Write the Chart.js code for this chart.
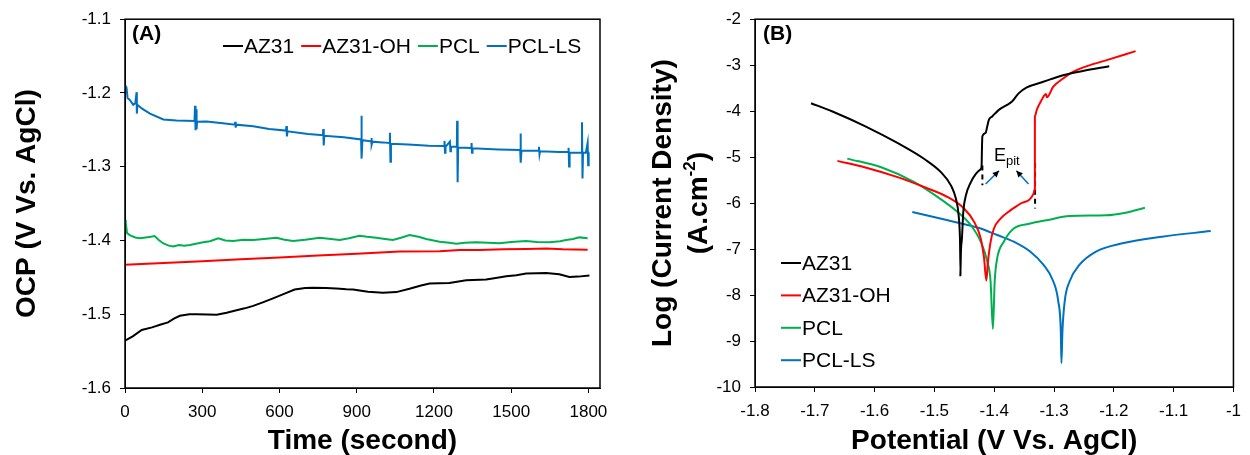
<!DOCTYPE html>
<html>
<head>
<meta charset="utf-8">
<script src="https://cdn.jsdelivr.net/npm/chart.js@4.4.1/dist/chart.umd.min.js"></script>
<style>
  html, body { margin: 0; padding: 0; background: #fff; }
  .panel { position: absolute; top: 0; width: 625px; height: 455px; }
  #panelA { left: 0; }
  #panelB { left: 625px; }
</style>
</head>
<body>
<div class="panel" id="panelA"><canvas id="ocpChart" width="625" height="455"></canvas></div>
<div class="panel" id="panelB"><canvas id="tafelChart" width="625" height="455"></canvas></div>
<script>
const FONT = "'Liberation Sans', Arial, sans-serif";
const seriesNames = ['AZ31', 'AZ31-OH', 'PCL', 'PCL-LS'];
const seriesColors = ['#000000', '#ff0000', '#00b050', '#0070c0'];

// (A) open circuit potential vs time
const timeTicks = [0, 300, 600, 900, 1200, 1500, 1800];

const az31Time = [0, 30, 65, 105, 136, 167, 190, 213, 250, 278, 320, 356, 395, 433, 465, 498, 535, 575, 620, 659, 700, 730, 780, 821, 860, 886, 911, 944, 1002, 1054, 1105, 1150, 1183, 1220, 1260, 1325, 1403, 1440, 1481, 1520, 1558, 1600, 1636, 1687, 1726, 1760, 1804];
const az31Ocp = [-1.5357, -1.530, -1.5213, -1.5178, -1.5142, -1.511, -1.506, -1.5021, -1.500, -1.4999, -1.5005, -1.5008, -1.498, -1.4945, -1.492, -1.4887, -1.484, -1.4784, -1.472, -1.4664, -1.4645, -1.4642, -1.4645, -1.465, -1.466, -1.4664, -1.4677, -1.4696, -1.4709, -1.470, -1.4655, -1.461, -1.4583, -1.458, -1.4575, -1.4539, -1.453, -1.451, -1.4485, -1.447, -1.4449, -1.4443, -1.4441, -1.4458, -1.4494, -1.449, -1.4476];

const ohTime = [0, 150, 300, 450, 600, 750, 900, 1067, 1222, 1300, 1377, 1470, 1558, 1636, 1700, 1797];
const ohOcp = [-1.433, -1.4305, -1.428, -1.4255, -1.423, -1.4205, -1.418, -1.415, -1.4146, -1.413, -1.4128, -1.412, -1.4114, -1.411, -1.412, -1.4125];

const pclTime = [0, 3, 8, 20, 40, 58, 80, 100, 115, 130, 149, 170, 187, 210, 230, 252, 280, 304, 330, 362, 390, 420, 460, 498, 540, 588, 620, 653, 700, 756, 800, 834, 870, 911, 940, 976, 1010, 1041, 1075, 1105, 1140, 1170, 1222, 1260, 1287, 1320, 1364, 1410, 1455, 1500, 1558, 1600, 1649, 1690, 1713, 1740, 1765, 1797];
const pclOcp = [-1.372, -1.376, -1.390, -1.393, -1.396, -1.397, -1.396, -1.395, -1.394, -1.399, -1.404, -1.407, -1.408, -1.406, -1.407, -1.406, -1.404, -1.4025, -1.401, -1.397, -1.400, -1.4007, -1.399, -1.3994, -1.398, -1.3962, -1.399, -1.4007, -1.399, -1.3962, -1.398, -1.3994, -1.397, -1.3936, -1.3949, -1.3962, -1.398, -1.3994, -1.396, -1.3927, -1.395, -1.398, -1.4016, -1.403, -1.4043, -1.403, -1.4025, -1.403, -1.4039, -1.402, -1.4007, -1.402, -1.4025, -1.401, -1.3994, -1.398, -1.3958, -1.3971];

const lsTime = [2, 6, 10, 20, 32, 40, 45, 46, 48, 65, 97, 149, 200, 239, 270, 272, 274, 276, 278, 280, 317, 380, 427, 428, 430, 432, 498, 560, 625, 627, 629, 631, 711, 769, 770, 772, 774, 850, 917, 918, 920, 922, 956, 957, 959, 961, 1000, 1028, 1029, 1031, 1033, 1100, 1180, 1240, 1241, 1243, 1245, 1262, 1264, 1266, 1289, 1290, 1292, 1294, 1345, 1346, 1348, 1350, 1450, 1535, 1536, 1538, 1540, 1607, 1608, 1610, 1612, 1687, 1722, 1723, 1725, 1727, 1774, 1775, 1777, 1779, 1790, 1797, 1799, 1801, 1804];
const lsOcp = [-1.190, -1.193, -1.207, -1.210, -1.216, -1.214, -1.199, -1.228, -1.216, -1.221, -1.228, -1.236, -1.2375, -1.2376, -1.238, -1.2175, -1.2505, -1.222, -1.249, -1.239, -1.2387, -1.241, -1.243, -1.239, -1.247, -1.243, -1.2452, -1.249, -1.251, -1.245, -1.259, -1.252, -1.2555, -1.2573, -1.2488, -1.2712, -1.258, -1.260, -1.263, -1.231, -1.289, -1.264, -1.2655, -1.261, -1.270, -1.266, -1.267, -1.268, -1.254, -1.2934, -1.269, -1.270, -1.2715, -1.272, -1.265, -1.281, -1.273, -1.266, -1.279, -1.273, -1.273, -1.2377, -1.3212, -1.274, -1.2745, -1.268, -1.281, -1.275, -1.2765, -1.2774, -1.255, -1.2944, -1.278, -1.2785, -1.273, -1.283, -1.279, -1.280, -1.280, -1.2743, -1.2997, -1.281, -1.281, -1.2398, -1.3158, -1.281, -1.281, -1.2676, -1.298, -1.281, -1.281];

// (B) polarization curves: potential (V) and log current density
const az31Pot = [-1.7063, -1.6705, -1.6154, -1.5603, -1.5162, -1.4887, -1.4722, -1.464, -1.4595, -1.4573, -1.4562, -1.4567, -1.4555, -1.454, -1.4517, -1.4474, -1.4392, -1.431, -1.4226, -1.4211, -1.4205, -1.4198, -1.4143, -1.412, -1.4088, -1.4033, -1.3923, -1.3785, -1.3702, -1.3592, -1.3455, -1.3179, -1.2849, -1.2518, -1.2077];
const az31Log = [-3.828, -4.007, -4.330, -4.703, -5.047, -5.333, -5.620, -5.907, -6.265, -6.767, -7.555, -7.59, -7.0, -6.77, -6.19, -5.835, -5.548, -5.370, -5.262, -5.19, -4.8, -4.545, -4.473, -4.35, -4.187, -4.115, -3.972, -3.864, -3.792, -3.613, -3.484, -3.362, -3.219, -3.125, -3.025];

const ohPot = [-1.6622, -1.6154, -1.5603, -1.5162, -1.4777, -1.4501, -1.4336, -1.4226, -1.417, -1.4132, -1.4104, -1.406, -1.4005, -1.3895, -1.373, -1.3565, -1.3344, -1.332, -1.332, -1.3289, -1.3207, -1.3135, -1.312, -1.3013, -1.2849, -1.2684, -1.2408, -1.2132, -1.1636];
const ohLog = [-5.082, -5.226, -5.441, -5.656, -5.871, -6.122, -6.409, -6.767, -7.198, -7.684, -7.269, -6.839, -6.553, -6.337, -6.158, -6.015, -5.80, -5.69, -4.115, -3.972, -3.756, -3.627, -3.70, -3.469, -3.29, -3.147, -3.004, -2.896, -2.695];

const pclPot = [-1.6457, -1.5879, -1.5328, -1.4942, -1.4612, -1.4392, -1.4226, -1.4116, -1.4061, -1.4022, -1.3992, -1.395, -1.384, -1.3674, -1.34, -1.3124, -1.2739, -1.2132, -1.1802, -1.148];
const pclLog = [-5.032, -5.226, -5.548, -5.871, -6.194, -6.48, -6.839, -7.269, -7.70, -8.738, -7.70, -7.198, -6.839, -6.553, -6.445, -6.373, -6.28, -6.265, -6.208, -6.10];

const lsPot = [-1.537, -1.4777, -1.4226, -1.395, -1.3674, -1.34, -1.3179, -1.3013, -1.293, -1.2887, -1.2876, -1.2859, -1.2821, -1.2739, -1.2573, -1.2298, -1.1857, -1.1195, -1.038];
const lsLog = [-6.194, -6.373, -6.553, -6.695, -6.839, -7.054, -7.34, -7.70, -8.13, -8.774, -9.477, -8.774, -8.13, -7.70, -7.34, -7.054, -6.875, -6.731, -6.609];

// pitting potential markers (dashed) and arrow ends
const epitPot = [-1.4198, -1.3317];
const epitLogTop = [-5.18, -5.12];
const epitLogBottom = [-5.61, -6.12];
const epitArrowFrom = [[-1.4143, -5.585], [-1.3427, -5.585]];
const epitArrowTo = [[-1.392, -5.297], [-1.363, -5.297]];
const epitLabelAt = [-1.4005, -5.075];

function pts(xs, ys) {
  return xs.map((x, i) => ({ x: x, y: ys[i] }));
}

function lineSet(label, data, color, smooth) {
  const ds = {
    label: label,
    data: data,
    borderColor: color,
    backgroundColor: color,
    borderWidth: 2,
    pointRadius: 0,
    showLine: true,
    tension: 0,
    fill: false
  };
  if (smooth) ds.cubicInterpolationMode = 'monotone';
  return ds;
}

function axis(min, max, step, fmt) {
  return {
    type: 'linear',
    min: min,
    max: max,
    ticks: {
      stepSize: step,
      includeBounds: false,
      color: '#000',
      padding: 9,
      font: { family: FONT, size: 17 },
      callback: fmt
    },
    grid: { drawOnChartArea: false, tickLength: 5, color: '#000', tickColor: '#000' },
    border: { display: true, color: '#000', width: 1 }
  };
}

const fmt1 = v => String(Number(v.toFixed(1)));
const fmt0 = v => String(Math.round(v));

function drawLegendRow(ctx, x, y, gap) {
  ctx.font = '21px ' + FONT;
  ctx.textBaseline = 'middle';
  ctx.textAlign = 'left';
  seriesNames.forEach((name, i) => {
    ctx.strokeStyle = seriesColors[i];
    ctx.lineWidth = 2;
    ctx.beginPath();
    ctx.moveTo(x, y);
    ctx.lineTo(x + 20, y);
    ctx.stroke();
    ctx.fillStyle = '#000';
    ctx.fillText(name, x + 21, y + 1);
    x += 21 + ctx.measureText(name).width + gap;
  });
}

function drawLegendColumn(ctx, x, y, step) {
  ctx.font = '21px ' + FONT;
  ctx.textBaseline = 'middle';
  ctx.textAlign = 'left';
  seriesNames.forEach((name, i) => {
    const yy = y + i * step;
    ctx.strokeStyle = seriesColors[i];
    ctx.lineWidth = 2;
    ctx.beginPath();
    ctx.moveTo(x, yy);
    ctx.lineTo(x + 20, yy);
    ctx.stroke();
    ctx.fillStyle = '#000';
    ctx.fillText(name, x + 21, yy + 1);
  });
}

function drawFrame(chart) {
  const { ctx, chartArea: a } = chart;
  ctx.save();
  ctx.strokeStyle = '#000';
  ctx.lineWidth = 1.5;
  ctx.strokeRect(a.left, a.top, a.right - a.left, a.bottom - a.top);
  ctx.restore();
}

function arrow(ctx, x0, y0, x1, y1) {
  const ang = Math.atan2(y1 - y0, x1 - x0);
  ctx.beginPath();
  ctx.moveTo(x0, y0);
  ctx.lineTo(x1, y1);
  ctx.stroke();
  ctx.beginPath();
  ctx.moveTo(x1, y1);
  ctx.lineTo(x1 - 7 * Math.cos(ang - 0.45), y1 - 7 * Math.sin(ang - 0.45));
  ctx.lineTo(x1 - 7 * Math.cos(ang + 0.45), y1 - 7 * Math.sin(ang + 0.45));
  ctx.closePath();
  ctx.fill();
}

Chart.defaults.animation = false;
Chart.defaults.font.family = FONT;

// Panel A
new Chart(document.getElementById('ocpChart'), {
  type: 'scatter',
  data: {
    datasets: [
      lineSet('AZ31', pts(az31Time, az31Ocp), seriesColors[0]),
      lineSet('AZ31-OH', pts(ohTime, ohOcp), seriesColors[1]),
      lineSet('PCL', pts(pclTime, pclOcp), seriesColors[2]),
      lineSet('PCL-LS', pts(lsTime, lsOcp), seriesColors[3])
    ]
  },
  options: {
    responsive: false,
    layout: { padding: { top: 15, right: 25, bottom: 0, left: 0 } },
    plugins: { legend: { display: false }, tooltip: { enabled: false } },
    scales: {
      x: Object.assign(axis(0, 1845, 300, fmt0), {
        afterBuildTicks: s => { s.ticks = timeTicks.map(v => ({ value: v })); },
        afterFit: s => { s.height = 67; },
        title: { display: true, text: 'Time (second)', color: '#000', padding: 0,
                 font: { family: FONT, size: 28, weight: 'bold', lineHeight: 1 } }
      }),
      y: Object.assign(axis(-1.6, -1.1, 0.1, fmt1), {
        afterFit: s => { s.width = 125; },
        title: { display: true, text: 'OCP (V Vs. AgCl)', color: '#000', padding: { top: 13 },
                 font: { family: FONT, size: 28, weight: 'bold', lineHeight: 1 } }
      })
    }
  },
  plugins: [{
    id: 'panelA',
    afterDraw(chart) {
      drawFrame(chart);
      const ctx = chart.ctx;
      ctx.save();
      ctx.fillStyle = '#000';
      ctx.font = 'bold 21px ' + FONT;
      ctx.textBaseline = 'middle';
      ctx.fillText('(A)', 132, 34);
      drawLegendRow(ctx, 223, 46, 7);
      ctx.restore();
    }
  }]
});

// Panel B
const epitSets = epitPot.map((p, i) => ({
  data: [{ x: p, y: epitLogTop[i] }, { x: p, y: epitLogBottom[i] }],
  borderColor: '#000',
  borderWidth: 2,
  borderDash: [5, 4],
  pointRadius: 0,
  showLine: true
}));

new Chart(document.getElementById('tafelChart'), {
  type: 'scatter',
  data: {
    datasets: [
      lineSet('AZ31', pts(az31Pot, az31Log), seriesColors[0], true),
      lineSet('AZ31-OH', pts(ohPot, ohLog), seriesColors[1], true),
      lineSet('PCL', pts(pclPot, pclLog), seriesColors[2], true),
      lineSet('PCL-LS', pts(lsPot, lsLog), seriesColors[3], true)
    ].concat(epitSets)
  },
  options: {
    responsive: false,
    layout: { padding: { top: 15, right: 11, bottom: 0, left: 0 } },
    plugins: { legend: { display: false }, tooltip: { enabled: false } },
    scales: {
      x: Object.assign(axis(-1.8, -1, 0.1, fmt1), {
        afterFit: s => { s.height = 68; },
        title: { display: true, text: 'Potential (V Vs. AgCl)', color: '#000', padding: 0,
                 font: { family: FONT, size: 28, weight: 'bold', lineHeight: 1 } }
      }),
      y: Object.assign(axis(-10, -2, 1, fmt0), {
        afterFit: s => { s.width = 130; }
      })
    }
  },
  plugins: [{
    id: 'panelB',
    afterDraw(chart) {
      drawFrame(chart);
      const ctx = chart.ctx;
      const a = chart.chartArea;
      const sx = chart.scales.x, sy = chart.scales.y;
      ctx.save();
      ctx.fillStyle = '#000';
      ctx.strokeStyle = '#000';

      // axis title with superscript
      ctx.translate(38, (a.top + a.bottom) / 2);
      ctx.rotate(-Math.PI / 2);
      ctx.textBaseline = 'middle';
      ctx.textAlign = 'center';
      ctx.font = 'bold 28px ' + FONT;
      ctx.fillText('Log (Current Density)', 0, 0);
      const p1 = '(A.cm', sup = '-2', p2 = ')';
      const w1 = ctx.measureText(p1).width, w2 = ctx.measureText(p2).width;
      ctx.font = 'bold 17px ' + FONT;
      const ws = ctx.measureText(sup).width;
      let start = -(w1 + ws + w2) / 2;
      ctx.textAlign = 'left';
      ctx.font = 'bold 28px ' + FONT;
      ctx.fillText(p1, start, 36);
      ctx.font = 'bold 17px ' + FONT;
      ctx.fillText(sup, start + w1, 27);
      ctx.font = 'bold 28px ' + FONT;
      ctx.fillText(p2, start + w1 + ws, 36);
      ctx.setTransform(1, 0, 0, 1, 0, 0);

      ctx.font = 'bold 21px ' + FONT;
      ctx.fillText('(B)', 138, 34);
      drawLegendColumn(ctx, 156, 263, 32.4);

      // E_pit label and arrows
      const ex = sx.getPixelForValue(epitLabelAt[0]);
      const ey = sy.getPixelForValue(epitLabelAt[1]);
      ctx.textBaseline = 'alphabetic';
      ctx.font = '18px ' + FONT;
      ctx.fillText('E', ex, ey);
      const we = ctx.measureText('E').width;
      ctx.font = '13px ' + FONT;
      ctx.fillText('pit', ex + we, ey + 4);
      ctx.lineWidth = 1.5;
      epitArrowFrom.forEach((f, i) => {
        const t = epitArrowTo[i];
        arrow(ctx, sx.getPixelForValue(f[0]), sy.getPixelForValue(f[1]),
              sx.getPixelForValue(t[0]), sy.getPixelForValue(t[1]));
      });
      ctx.restore();
    }
  }]
});
</script>
</body>
</html>
